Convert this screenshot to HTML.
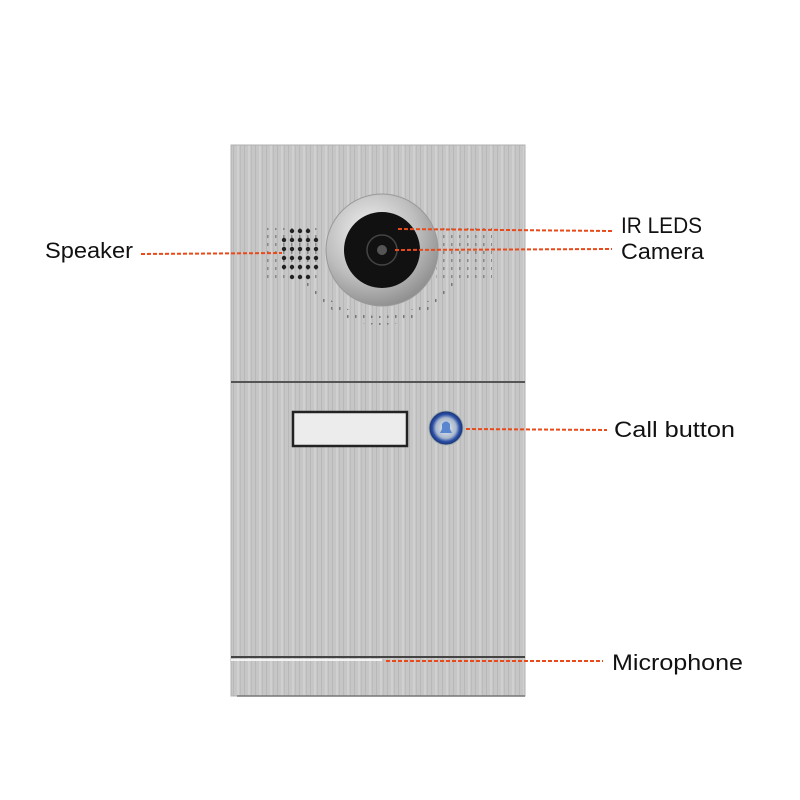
<!DOCTYPE html>
<html><head><meta charset="utf-8"><style>
body{margin:0;background:#fff;width:800px;height:800px;overflow:hidden}
svg{display:block}
text{font-family:"Liberation Sans",sans-serif;font-size:22px;fill:#111}
</style></head><body>
<svg width="800" height="800" viewBox="0 0 800 800">
<defs>
<pattern id="br" width="11" height="10" patternUnits="userSpaceOnUse">
<rect width="11" height="10" fill="#c6c6c6"/>
<rect x="2" width="1" height="10" fill="#b8b8b8"/>
<rect x="6" width="2" height="10" fill="#d0d0d0"/>
<rect x="9" width="1" height="10" fill="#bcbcbc"/>
</pattern>
<pattern id="dg" width="8" height="8" patternUnits="userSpaceOnUse">
<rect x="3" y="3" width="1.5" height="3" fill="#777"/>
</pattern>
<radialGradient id="ring" cx="0.4" cy="0.35" r="0.7">
<stop offset="0" stop-color="#f4f4f4"/><stop offset="0.6" stop-color="#bdbdbd"/><stop offset="1" stop-color="#8a8a8a"/>
</radialGradient>
<radialGradient id="btn" cx="0.5" cy="0.5" r="0.5">
<stop offset="0" stop-color="#e8eef5"/><stop offset="0.6" stop-color="#a9b8cc"/><stop offset="0.8" stop-color="#2a4fa8"/><stop offset="1" stop-color="#1b2f6e"/>
</radialGradient>
</defs>
<rect x="231" y="145" width="294" height="551" fill="url(#br)"/>
<rect x="231" y="145" width="294" height="551" fill="none" stroke="#b0b0b0" stroke-width="1"/>
<line x1="231" y1="382" x2="525" y2="382" stroke="#555" stroke-width="2"/>
<line x1="231" y1="657" x2="525" y2="657" stroke="#444" stroke-width="2"/>
<line x1="231" y1="660" x2="382" y2="660" stroke="#f2f2f2" stroke-width="2"/>
<line x1="237" y1="696" x2="525" y2="696" stroke="#777" stroke-width="1.5"/>
<!-- perforation small dots -->
<rect x="264" y="228" width="56" height="52" fill="url(#dg)" opacity="0.8"/>
<rect x="436" y="228" width="56" height="52" fill="url(#dg)" opacity="0.8"/>
<path d="M300 282 Q380 365 460 282 L452 282 Q380 350 308 282 Z" fill="url(#dg)"/>
<path d="M310 288 Q380 345 450 288 L442 300 Q380 350 318 300 Z" fill="url(#dg)"/>
<!-- speaker holes -->
<g fill="#222">
<circle cx="292" cy="231" r="2.2"/><circle cx="300" cy="231" r="2.2"/><circle cx="308" cy="231" r="2.2"/>
<circle cx="284" cy="240" r="2.2"/><circle cx="292" cy="240" r="2.2"/><circle cx="300" cy="240" r="2.2"/><circle cx="308" cy="240" r="2.2"/><circle cx="316" cy="240" r="2.2"/>
<circle cx="284" cy="249" r="2.2"/><circle cx="292" cy="249" r="2.2"/><circle cx="300" cy="249" r="2.2"/><circle cx="308" cy="249" r="2.2"/><circle cx="316" cy="249" r="2.2"/>
<circle cx="284" cy="258" r="2.2"/><circle cx="292" cy="258" r="2.2"/><circle cx="300" cy="258" r="2.2"/><circle cx="308" cy="258" r="2.2"/><circle cx="316" cy="258" r="2.2"/>
<circle cx="284" cy="267" r="2.2"/><circle cx="292" cy="267" r="2.2"/><circle cx="300" cy="267" r="2.2"/><circle cx="308" cy="267" r="2.2"/><circle cx="316" cy="267" r="2.2"/>
<circle cx="292" cy="277" r="2.2"/><circle cx="300" cy="277" r="2.2"/><circle cx="308" cy="277" r="2.2"/>
</g>
<!-- camera -->
<circle cx="382" cy="250" r="56" fill="url(#ring)"/>
<circle cx="382" cy="250" r="56" fill="none" stroke="#999"/>
<circle cx="382" cy="250" r="38" fill="#111"/>
<circle cx="382" cy="250" r="15" fill="none" stroke="#444" stroke-width="1.5"/>
<circle cx="382" cy="250" r="5" fill="#555"/>
<!-- name plate -->
<rect x="293" y="412" width="114" height="34" fill="#ececec" stroke="#222" stroke-width="2.5"/>
<!-- call button -->
<circle cx="446" cy="428" r="17" fill="url(#btn)"/>
<circle cx="446" cy="428" r="17" fill="none" stroke="#9aa" stroke-width="1"/>
<path d="M440 433 L452 433 L450 429 L450 424 Q446 419 442 424 L442 429 Z" fill="#5a86d0"/>
<!-- leader lines -->
<g stroke="#e84a1a" stroke-width="2" stroke-dasharray="4 2" fill="none">
<line x1="141" y1="254" x2="282" y2="253"/>
<line x1="398" y1="229" x2="612" y2="231"/>
<line x1="395" y1="250" x2="612" y2="249"/>
<line x1="466" y1="429" x2="607" y2="430"/>
<line x1="386" y1="661" x2="603" y2="661"/>
</g>
<text x="45" y="258" textLength="88" lengthAdjust="spacingAndGlyphs">Speaker</text>
<text x="621" y="233" textLength="81" lengthAdjust="spacingAndGlyphs">IR LEDS</text>
<text x="621" y="259" textLength="83" lengthAdjust="spacingAndGlyphs">Camera</text>
<text x="614" y="437" textLength="121" lengthAdjust="spacingAndGlyphs">Call button</text>
<text x="612" y="670" textLength="131" lengthAdjust="spacingAndGlyphs">Microphone</text>
</svg>
</body></html>
